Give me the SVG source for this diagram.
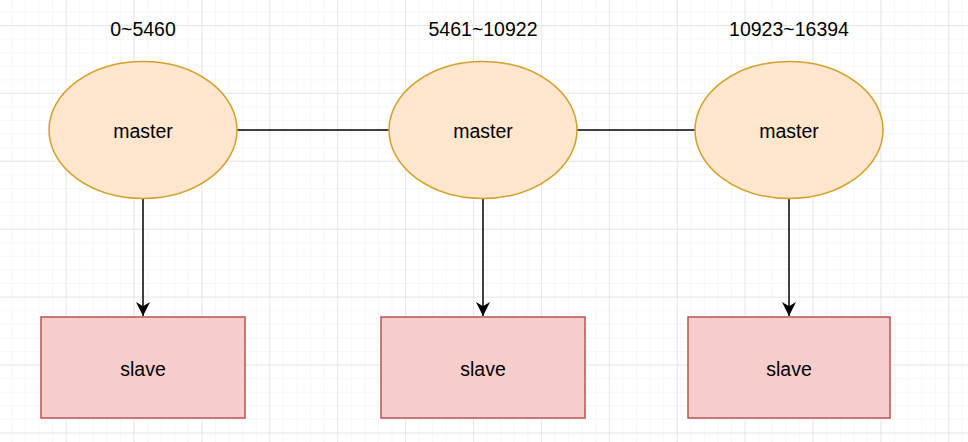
<svg xmlns="http://www.w3.org/2000/svg" width="968" height="442" viewBox="0 0 968 442">
<defs>
<pattern id="minor" x="-1.3" y="-41.9" width="13.58" height="13.58" patternUnits="userSpaceOnUse">
<path d="M13.58 0V13.58M0 13.58H13.58" fill="none" stroke="#efefef" stroke-width="1"/>
</pattern>
<pattern id="major" x="-1.3" y="-41.9" width="67.9" height="67.9" patternUnits="userSpaceOnUse">
<path d="M67.9 0V67.9M0 67.9H67.9" fill="none" stroke="#d8d8d8" stroke-width="1"/>
</pattern>
<marker id="arr" viewBox="0 0 10 10" refX="10" refY="5" markerWidth="14" markerHeight="14" markerUnits="userSpaceOnUse" orient="auto">
<path d="M0 0L10 5L0 10L3 5Z" fill="#000"/>
</marker>
</defs>
<style>
.m{fill:#ffe6cc;stroke:#d4a02c;stroke-width:1.5}
.s{fill:#f8cecc;stroke:#b85450;stroke-width:1.5}
.t{font-family:"Liberation Sans",Arial,sans-serif;font-size:19.5px;fill:#000;text-anchor:middle}
.c{stroke:#000;stroke-width:1.5;fill:none}
</style>
<rect width="968" height="442" fill="#fff"/>
<rect width="968" height="442" fill="url(#minor)"/>
<rect width="968" height="442" fill="url(#major)"/>
<g id="connectors">
<line class="c" x1="237" y1="130" x2="389" y2="130"/>
<line class="c" x1="577" y1="130" x2="695" y2="130"/>
<line class="c" x1="143" y1="198" x2="143" y2="316" marker-end="url(#arr)"/>
<line class="c" x1="483" y1="198" x2="483" y2="316" marker-end="url(#arr)"/>
<line class="c" x1="789" y1="198" x2="789" y2="316" marker-end="url(#arr)"/>
</g>
<g id="label1"><text class="t" x="143" y="36">0~5460</text></g>
<g id="label2"><text class="t" x="483" y="36">5461~10922</text></g>
<g id="label3"><text class="t" x="789" y="36">10923~16394</text></g>
<g id="master1"><ellipse class="m" cx="143" cy="130" rx="94" ry="68.5"/><text class="t" x="143" y="138">master</text></g>
<g id="master2"><ellipse class="m" cx="483" cy="130" rx="94" ry="68.5"/><text class="t" x="483" y="138">master</text></g>
<g id="master3"><ellipse class="m" cx="789" cy="130" rx="94" ry="68.5"/><text class="t" x="789" y="138">master</text></g>
<g id="slave1"><rect class="s" x="41" y="317" width="204" height="101"/><text class="t" x="143" y="376">slave</text></g>
<g id="slave2"><rect class="s" x="381" y="317" width="204" height="101"/><text class="t" x="483" y="376">slave</text></g>
<g id="slave3"><rect class="s" x="688" y="317" width="202" height="101"/><text class="t" x="789" y="376">slave</text></g>
</svg>
